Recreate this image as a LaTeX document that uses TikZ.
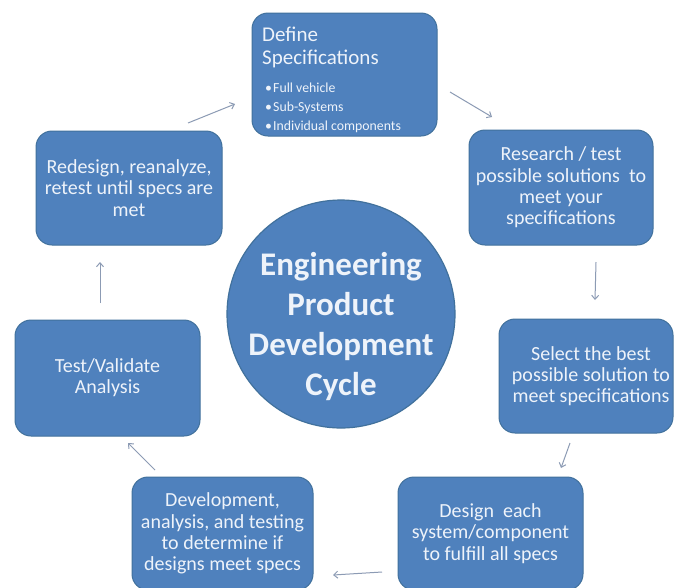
\documentclass[tikz,border=0pt]{standalone}
\usepackage{fontspec}
\setmainfont{Carlito}
\usetikzlibrary{arrows.meta}
\definecolor{boxblue}{HTML}{4F81BD}
\definecolor{boxedge}{HTML}{41719C}
\definecolor{txt}{HTML}{EEF3FA}
\definecolor{arr}{HTML}{8C9BB4}
\tikzset{
  stagebox/.style={draw=boxedge, line width=1pt, fill=boxblue, rounded corners=16pt,
    text=txt, align=center, inner sep=4pt, font=\fontsize{20}{21.3}\selectfont},
  stagetext/.style={text=txt, align=center, inner sep=0pt, font=\fontsize{20}{21.3}\selectfont},
  hub/.style={circle, draw=boxedge, line width=1.2pt, fill=boxblue},
  hubtext/.style={text=txt, align=center, font=\bfseries\fontsize{33}{40}\selectfont},
  deftitle/.style={anchor=base west, inner sep=0pt, text=txt, font=\fontsize{21}{25}\selectfont},
  defbullet/.style={anchor=base west, inner sep=0pt, text=txt, font=\fontsize{13.8}{19}\selectfont},
  flow/.style={draw=arr, line width=1pt, -{Straight Barb[length=4pt,width=7pt]}}
}
\begin{document}
\begin{tikzpicture}[x=1pt,y=-1pt]
\useasboundingbox (0,0) rectangle (674,587);
\fill[white] (0,0) rectangle (674,587);

% central circle
\node[hub, minimum size=228pt] (hubc) at (341,314) {};
\node[hubtext] (hubt) at (341,327) {Engineering\\Product\\Development\\Cycle};

% stage boxes
\node[stagebox, minimum width=185pt, minimum height=123pt] (define) at (344.5,74.5) {};
\node[deftitle] (deft1) at (262,41) {Define};
\node[deftitle] (deft2) at (262,64) {Specifications};
\node[defbullet] (defb1) at (265,92) {\makebox[8pt][l]{•}Full vehicle};
\node[defbullet] (defb2) at (265,111) {\makebox[8pt][l]{•}Sub-Systems};
\node[defbullet] (defb3) at (265,130) {\makebox[8pt][l]{•}Individual components};

\node[stagebox, minimum width=184pt, minimum height=115pt] (research) at (561,187.5)
  {Research / test\\possible solutions\ \ to\\meet your\\specifications};
\node[stagebox, minimum width=174pt, minimum height=114pt] (select) at (586,376) {};
\node[stagetext] (selectt) at (591,376)
  {Select the best\\possible solution to\\meet specifications};
\node[stagebox, minimum width=185pt, minimum height=113pt] (design) at (490.5,533.5)
  {Design\ \ each\\system/component\\to fulfill all specs};
\node[stagebox, minimum width=181pt, minimum height=113pt] (develop) at (222.5,533.5)
  {Development,\\analysis, and testing\\to determine if\\designs meet specs};
\node[stagebox, minimum width=185pt, minimum height=116pt] (testval) at (107.5,378)
  {Test/Validate\\Analysis};
\node[stagebox, minimum width=186pt, minimum height=114pt] (redesign) at (129,188)
  {Redesign, reanalyze,\\retest until specs are\\met};

% arrow end points
\coordinate (a1s) at (450,92);  \coordinate (a1e) at (492,117);
\coordinate (a2s) at (596,262); \coordinate (a2e) at (595,300);
\coordinate (a3s) at (570,443); \coordinate (a3e) at (561,468);
\coordinate (a4s) at (382,572); \coordinate (a4e) at (333,575);
\coordinate (a5s) at (155,470); \coordinate (a5e) at (128,443);
\coordinate (a6s) at (100,303); \coordinate (a6e) at (100,262);
\coordinate (a7s) at (188,123); \coordinate (a7e) at (235,104);

\draw[flow] (a1s) -- (a1e);
\draw[flow] (a2s) -- (a2e);
\draw[flow] (a3s) -- (a3e);
\draw[flow] (a4s) -- (a4e);
\draw[flow] (a5s) -- (a5e);
\draw[flow] (a6s) -- (a6e);
\draw[flow] (a7s) -- (a7e);
\end{tikzpicture}
\end{document}
